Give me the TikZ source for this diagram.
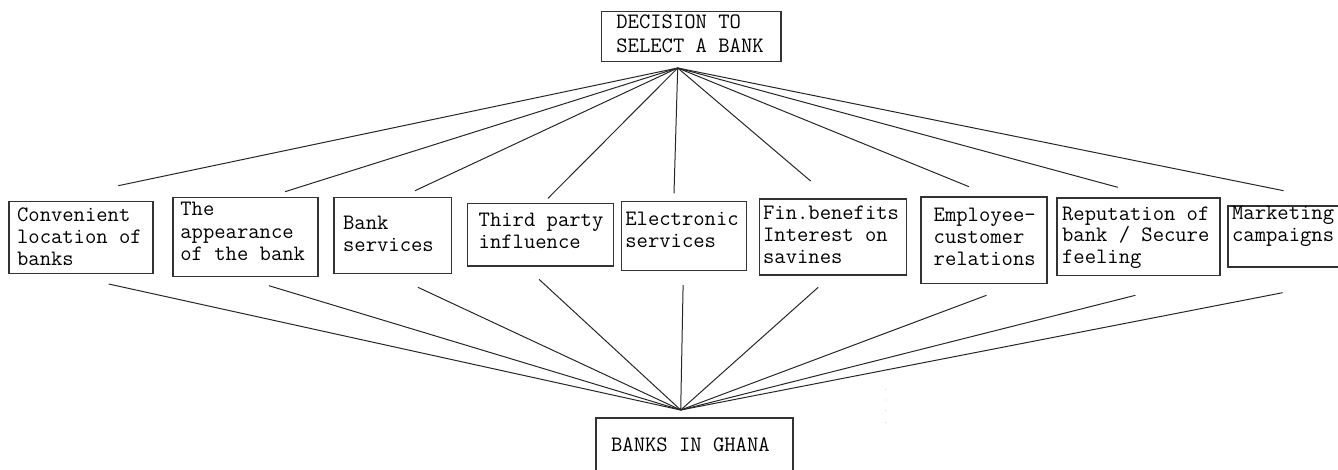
\documentclass[tikz,border=0pt]{standalone}
\usepackage{fontspec}
\usetikzlibrary{fit}
\begin{document}
\begin{tikzpicture}[x=0.5pt,y=-0.5pt,
  box/.style={draw=black!80, line width=0.65pt, rectangle, inner sep=0pt},
  % anchored at the baseline of the last line of each label
  lbl/.style={anchor=base west, inner sep=0pt, align=left, text=black,
    font=\ttfamily\fontsize{11}{11}\selectfont},
  link/.style={draw=black!85, line width=0.5pt}]
\useasboundingbox (0,0) rectangle (1338,470);
\clip (0,0) rectangle (1338,470);

% goal at the top
\node[box, fit={(601.7,11.7) (781,61.7)}] (goal) {};
\node[lbl, font=\ttfamily\fontsize{11}{12}\selectfont] (goaltext) at (616,53) {DECISION TO\\SELECT A BANK};

% selection criteria
\node[box, fit={(9,201.7) (153,273.3)}] (c1) {};
\node[lbl, font=\ttfamily\fontsize{11}{10.8}\selectfont] (c1text) at (16.7,265) {Convenient\\location of\\banks};
\node[box, fit={(173,197.3) (318,276.7)}] (c2) {};
\node[lbl, font=\ttfamily\fontsize{11}{11.25}\selectfont] (c2text) at (180,260.7) {The\\appearance\\of the bank};
\node[box, fit={(334,197.3) (451.7,273.3)}] (c3) {};
\node[lbl] (c3text) at (342.7,251.7) {Bank\\services};
\node[box, fit={(467.3,203.3) (613.3,266)}] (c4) {};
\node[lbl] (c4text) at (478.3,248.3) {Third party\\influence};
\node[box, fit={(621.7,201.7) (746.7,270.7)}] (c5) {};
\node[lbl] (c5text) at (625,247.3) {Electronic\\services};
\node[box, fit={(759.3,199) (906.7,275)}] (c6) {};
\node[lbl] (c6text) at (762.7,263.3) {Fin.benefits\\Interest on\\savines};
\node[box, fit={(921,197) (1047,283.3)}] (c7) {};
\node[lbl, font=\ttfamily\fontsize{11}{10.8}\selectfont] (c7text) at (933.3,265) {Employee-\\customer\\relations};
\node[box, fit={(1057,198) (1220,275.7)}] (c8) {};
\node[lbl, font=\ttfamily\fontsize{11}{10.8}\selectfont] (c8text) at (1061.7,263.3) {Reputation of\\bank / Secure\\feeling};
\node[box, fit={(1228,206) (1350,267)}] (c9) {};
\node[lbl] (c9text) at (1231.7,241.7) {Marketing\\campaigns};

% alternatives at the bottom
\node[box, fit={(596,418) (793,485)}] (banks) {};
\node[lbl] (bankstext) at (610.7,451) {BANKS IN GHANA};

% fan points
\coordinate (apex) at (677.7,68);
\coordinate (hub) at (680.7,410);

\coordinate (u1) at (118.3,185.7);
\coordinate (u2) at (285,191.7);
\coordinate (u3) at (415,190.7);
\coordinate (u4) at (548,198.3);
\coordinate (u5) at (674,193.3);
\coordinate (u6) at (810.6,181);
\coordinate (u7) at (969,186.7);
\coordinate (u8) at (1117.7,187.3);
\coordinate (u9) at (1283.5,190.7);

\coordinate (d1) at (108.7,284);
\coordinate (d2) at (268.9,285.7);
\coordinate (d3) at (417.9,287.3);
\coordinate (d4) at (539,279.3);
\coordinate (d5) at (683.1,285);
\coordinate (d6) at (818.2,287.3);
\coordinate (d7) at (986.5,295.3);
\coordinate (d8) at (1135.4,295.3);
\coordinate (d9) at (1282.6,292.7);

\foreach \i in {1,...,9} {
  \draw[link] (apex) -- (u\i);
  \draw[link] (d\i) -- (hub);
}

% faint specks to the right of the lower fan
\foreach \yy in {389.3,400,410.7,422.7}
  \fill[orange!35] (885.7,\yy) circle[radius=0.35pt];
\end{tikzpicture}
\end{document}
